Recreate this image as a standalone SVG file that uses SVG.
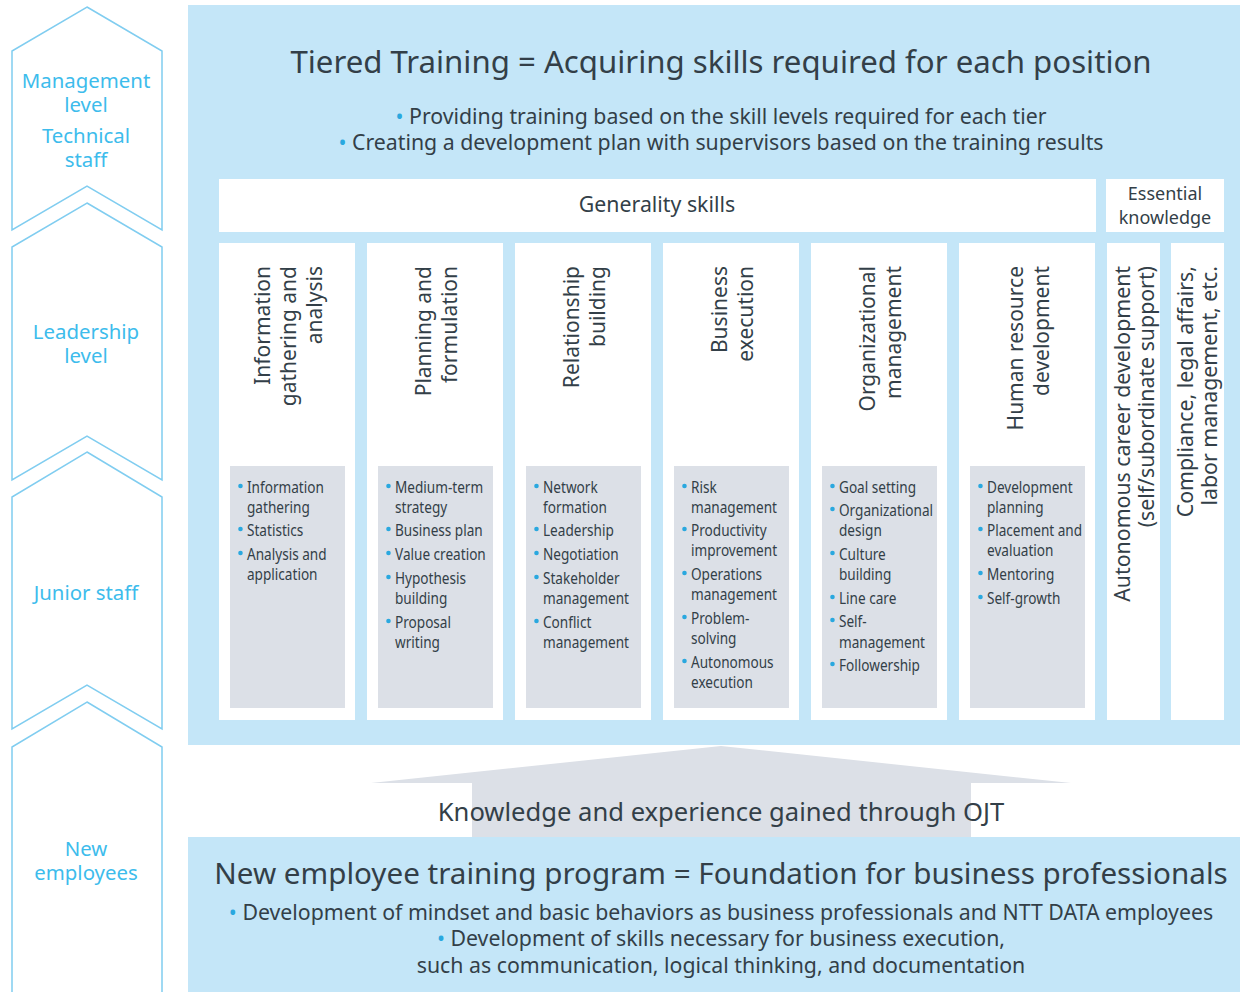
<svg xmlns="http://www.w3.org/2000/svg" width="1240" height="992" viewBox="0 0 1240 992">
<style>
.panel{fill:#c4e6f8}
.white{fill:#ffffff}
.gray{fill:#dce0e7}
.chev{fill:#ffffff;stroke:#80cdf0;stroke-width:1.5}
.ctext{font-family:"Noto Sans","Open Sans",sans-serif;font-size:20.4px;fill:#3dbcec;text-anchor:middle}
.title{font-family:"Noto Sans","Open Sans",sans-serif;font-size:31.2px;fill:#333f48;text-anchor:middle}
.sub{font-family:"Noto Sans","Open Sans",sans-serif;font-size:21.3px;fill:#333f48;text-anchor:middle}
.head{font-family:"Noto Sans","Open Sans",sans-serif;font-size:21px;fill:#333f48;text-anchor:end}
.item{font-family:"Noto Sans","Open Sans",sans-serif;font-size:17px;fill:#333f48}
.bl{fill:#2aa8df}
.dot{fill:#2aa8df}
</style>

<g id="levels">
  <g id="level-management">
    <polygon class="chev" points="87,7 162,51 162,230 87,186 12,230 12,51"/>
    <text class="ctext"><tspan x="86" y="88">Management</tspan><tspan x="86" y="112">level</tspan><tspan x="86" y="143">Technical</tspan><tspan x="86" y="167">staff</tspan></text>
  </g>
  <g id="level-leadership">
    <polygon class="chev" points="87,203 162,247 162,480 87,436 12,480 12,247"/>
    <text class="ctext"><tspan x="86" y="339">Leadership</tspan><tspan x="86" y="363">level</tspan></text>
  </g>
  <g id="level-junior">
    <polygon class="chev" points="87,452 162,497 162,729 87,685 12,729 12,497"/>
    <text class="ctext"><tspan x="86" y="600">Junior staff</tspan></text>
  </g>
  <g id="level-new">
    <polygon class="chev" points="87,702 162,747 162,1000 12,1000 12,747"/>
    <text class="ctext"><tspan x="86" y="856">New</tspan><tspan x="86" y="880">employees</tspan></text>
  </g>
</g>

<g id="tiered-panel">
  <rect class="panel" x="188" y="5" width="1052" height="740"/>
  <text class="title" x="721" y="73">Tiered Training = Acquiring skills required for each position</text>
  <text class="sub" x="721" y="124"><tspan class="bl">•</tspan> Providing training based on the skill levels required for each tier</text>
  <text class="sub" x="721" y="150"><tspan class="bl">•</tspan> Creating a development plan with supervisors based on the training results</text>
</g>

<g id="generality-header">
  <rect class="white" x="219" y="179" width="877" height="53"/>
  <text class="sub" x="657" y="212">Generality skills</text>
</g>
<g id="essential-header">
  <rect class="white" x="1106" y="179" width="118" height="53"/>
  <text class="sub" style="font-size:18px"><tspan x="1165" y="200">Essential</tspan><tspan x="1165" y="224">knowledge</tspan></text>
</g>

<g id="col-info">
  <rect class="white" x="219" y="243" width="136" height="477"/>
  <text class="head" transform="translate(270,266) rotate(-90)"><tspan x="0" y="0">Information</tspan><tspan x="0" dy="26">gathering and</tspan><tspan x="0" dy="26">analysis</tspan></text>
  <rect class="gray" x="230" y="466" width="115" height="242"/>
  <circle class="dot" cx="240.5" cy="486" r="2.3"/><circle class="dot" cx="240.5" cy="529" r="2.3"/><circle class="dot" cx="240.5" cy="553" r="2.3"/>
  <text class="item" transform="translate(247,0) scale(0.8,1)"><tspan x="0" y="493">Information</tspan><tspan x="0" y="513">gathering</tspan><tspan x="0" y="536">Statistics</tspan><tspan x="0" y="560">Analysis and</tspan><tspan x="0" y="580">application</tspan></text>
</g>

<g id="col-planning">
  <rect class="white" x="367" y="243" width="136" height="477"/>
  <text class="head" transform="translate(431,266) rotate(-90)"><tspan x="0" y="0">Planning and</tspan><tspan x="0" dy="26">formulation</tspan></text>
  <rect class="gray" x="378" y="466" width="115" height="242"/>
  <circle class="dot" cx="388.5" cy="486" r="2.3"/><circle class="dot" cx="388.5" cy="529" r="2.3"/><circle class="dot" cx="388.5" cy="553" r="2.3"/><circle class="dot" cx="388.5" cy="577" r="2.3"/><circle class="dot" cx="388.5" cy="621" r="2.3"/>
  <text class="item" transform="translate(395,0) scale(0.8,1)"><tspan x="0" y="493">Medium-term</tspan><tspan x="0" y="513">strategy</tspan><tspan x="0" y="536">Business plan</tspan><tspan x="0" y="560">Value creation</tspan><tspan x="0" y="584">Hypothesis</tspan><tspan x="0" y="604">building</tspan><tspan x="0" y="628">Proposal</tspan><tspan x="0" y="648">writing</tspan></text>
</g>

<g id="col-relationship">
  <rect class="white" x="515" y="243" width="136" height="477"/>
  <text class="head" transform="translate(579,266) rotate(-90)"><tspan x="0" y="0">Relationship</tspan><tspan x="0" dy="26">building</tspan></text>
  <rect class="gray" x="526" y="466" width="115" height="242"/>
  <circle class="dot" cx="536.5" cy="486" r="2.3"/><circle class="dot" cx="536.5" cy="529" r="2.3"/><circle class="dot" cx="536.5" cy="553" r="2.3"/><circle class="dot" cx="536.5" cy="577" r="2.3"/><circle class="dot" cx="536.5" cy="621" r="2.3"/>
  <text class="item" transform="translate(543,0) scale(0.8,1)"><tspan x="0" y="493">Network</tspan><tspan x="0" y="513">formation</tspan><tspan x="0" y="536">Leadership</tspan><tspan x="0" y="560">Negotiation</tspan><tspan x="0" y="584">Stakeholder</tspan><tspan x="0" y="604">management</tspan><tspan x="0" y="628">Conflict</tspan><tspan x="0" y="648">management</tspan></text>
</g>

<g id="col-business">
  <rect class="white" x="663" y="243" width="136" height="477"/>
  <text class="head" transform="translate(727,266) rotate(-90)"><tspan x="0" y="0">Business</tspan><tspan x="0" dy="26">execution</tspan></text>
  <rect class="gray" x="674" y="466" width="115" height="242"/>
  <circle class="dot" cx="684.5" cy="486" r="2.3"/><circle class="dot" cx="684.5" cy="529" r="2.3"/><circle class="dot" cx="684.5" cy="573" r="2.3"/><circle class="dot" cx="684.5" cy="617" r="2.3"/><circle class="dot" cx="684.5" cy="661" r="2.3"/>
  <text class="item" transform="translate(691,0) scale(0.8,1)"><tspan x="0" y="493">Risk</tspan><tspan x="0" y="513">management</tspan><tspan x="0" y="536">Productivity</tspan><tspan x="0" y="556">improvement</tspan><tspan x="0" y="580">Operations</tspan><tspan x="0" y="600">management</tspan><tspan x="0" y="624">Problem-</tspan><tspan x="0" y="644">solving</tspan><tspan x="0" y="668">Autonomous</tspan><tspan x="0" y="688">execution</tspan></text>
</g>

<g id="col-organizational">
  <rect class="white" x="811" y="243" width="136" height="477"/>
  <text class="head" transform="translate(875,266) rotate(-90)"><tspan x="0" y="0">Organizational</tspan><tspan x="0" dy="26">management</tspan></text>
  <rect class="gray" x="822" y="466" width="115" height="242"/>
  <circle class="dot" cx="832.5" cy="486" r="2.3"/><circle class="dot" cx="832.5" cy="509" r="2.3"/><circle class="dot" cx="832.5" cy="553" r="2.3"/><circle class="dot" cx="832.5" cy="597" r="2.3"/><circle class="dot" cx="832.5" cy="620" r="2.3"/><circle class="dot" cx="832.5" cy="664" r="2.3"/>
  <text class="item" transform="translate(839,0) scale(0.8,1)"><tspan x="0" y="493">Goal setting</tspan><tspan x="0" y="516">Organizational</tspan><tspan x="0" y="536">design</tspan><tspan x="0" y="560">Culture</tspan><tspan x="0" y="580">building</tspan><tspan x="0" y="604">Line care</tspan><tspan x="0" y="627">Self-</tspan><tspan x="0" y="648">management</tspan><tspan x="0" y="671">Followership</tspan></text>
</g>

<g id="col-hr">
  <rect class="white" x="959" y="243" width="136" height="477"/>
  <text class="head" transform="translate(1023,266) rotate(-90)"><tspan x="0" y="0">Human resource</tspan><tspan x="0" dy="26">development</tspan></text>
  <rect class="gray" x="970" y="466" width="115" height="242"/>
  <circle class="dot" cx="980.5" cy="486" r="2.3"/><circle class="dot" cx="980.5" cy="529" r="2.3"/><circle class="dot" cx="980.5" cy="573" r="2.3"/><circle class="dot" cx="980.5" cy="597" r="2.3"/>
  <text class="item" transform="translate(987,0) scale(0.8,1)"><tspan x="0" y="493">Development</tspan><tspan x="0" y="513">planning</tspan><tspan x="0" y="536">Placement and</tspan><tspan x="0" y="556">evaluation</tspan><tspan x="0" y="580">Mentoring</tspan><tspan x="0" y="604">Self-growth</tspan></text>
</g>

<g id="col-career">
  <rect class="white" x="1107" y="243" width="53" height="477"/>
  <text class="head" style="font-size:21.3px" transform="translate(1130,266) rotate(-90)"><tspan x="0" y="0">Autonomous career development</tspan><tspan x="0" dy="24">(self/subordinate support)</tspan></text>
</g>
<g id="col-compliance">
  <rect class="white" x="1171" y="243" width="53" height="477"/>
  <text class="head" style="font-size:21.3px" transform="translate(1193,266) rotate(-90)"><tspan x="0" y="0">Compliance, legal affairs,</tspan><tspan x="0" dy="24">labor management, etc.</tspan></text>
</g>

<g id="connectors">
  <polygon class="gray" points="721,746 1071,783 971,783 971,837 472,837 472,783 371,783"/>
  <text class="sub" style="font-size:25.6px" x="721" y="821">Knowledge and experience gained through OJT</text>
</g>

<g id="new-employee-panel">
  <rect class="panel" x="188" y="837" width="1052" height="155"/>
  <text class="title" style="font-size:29.6px" x="721" y="884">New employee training program = Foundation for business professionals</text>
  <text class="sub" x="721" y="920"><tspan class="bl">•</tspan> Development of mindset and basic behaviors as business professionals and NTT DATA employees</text>
  <text class="sub" x="721" y="946"><tspan class="bl">•</tspan> Development of skills necessary for business execution,</text>
  <text class="sub" x="721" y="973">such as communication, logical thinking, and documentation</text>
</g>
</svg>
